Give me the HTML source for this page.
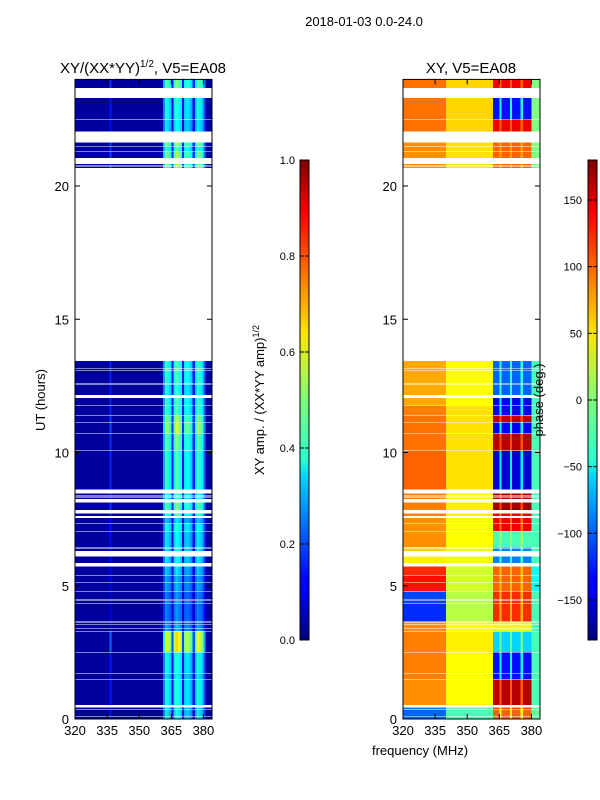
<!DOCTYPE html>
<html><head><meta charset="utf-8"><style>
body{margin:0;background:#fff;}
svg{display:block;font-family:"Liberation Sans","DejaVu Sans",sans-serif;}
</style></head><body>
<svg id="fig" width="600" height="800" viewBox="0 0 600 800" xmlns="http://www.w3.org/2000/svg">
<defs>
<linearGradient id="jetg" x1="0" y1="1" x2="0" y2="0">
<stop offset="0" stop-color="#00007f"/><stop offset="0.11" stop-color="#0000ff"/><stop offset="0.125" stop-color="#0000ff"/>
<stop offset="0.34" stop-color="#00d4ff"/><stop offset="0.375" stop-color="#29ffce"/><stop offset="0.5" stop-color="#7dff7a"/>
<stop offset="0.64" stop-color="#ffe500"/><stop offset="0.66" stop-color="#ffd000"/><stop offset="0.89" stop-color="#ff0000"/><stop offset="1" stop-color="#7f0000"/>
</linearGradient>
</defs>
<text x="364" y="26" font-size="13" text-anchor="middle">2018-01-03 0.0-24.0</text>
<g id="p1"></g>
<g id="p2"></g>
<text x="143" y="73" font-size="15" text-anchor="middle">XY/(XX*YY)<tspan font-size="10" dy="-6">1/2</tspan><tspan dy="6">, V5=EA08</tspan></text>
<text x="471" y="73" font-size="15" text-anchor="middle">XY, V5=EA08</text>
<text x="45" y="400" font-size="13" text-anchor="middle" transform="rotate(-90 45 400)">UT (hours)</text>
<text x="420" y="755" font-size="13" text-anchor="middle">frequency (MHz)</text>
<g>
<rect x="300" y="160" width="9" height="480" fill="url(#jetg)" stroke="#000" stroke-width="1"/>
</g>
<g>
<rect x="588" y="160" width="9" height="480" fill="url(#jetg)" stroke="#000" stroke-width="1"/>
</g>
<text x="264" y="400" font-size="13" text-anchor="middle" transform="rotate(-90 264 400)">XY amp. / (XX*YY amp)<tspan font-size="9" dy="-5">1/2</tspan></text>
<text x="543" y="400" font-size="13" text-anchor="middle" transform="rotate(-90 543 400)">phase (deg.)</text>
<g id="cb"></g>
</svg>
<script>
const segStart=[0,0.09,0.35,0.53,1.51,1.73,2.51,3.31,3.42,3.54,3.65,4.36,4.44,4.51,4.81,5.15,5.41,5.86,6.31,6.39,6.46,7.06,7.36,7.61,7.85,8.26,8.34,8.41,8.61,10.07,10.71,11.15,11.41,11.79,12.16,12.58,13.07,13.18,20.68,20.76,21.06,21.29,21.51,22.04,22.49,23.68];
const segEnd=[0.07,0.33,0.44,1.49,1.71,2.49,3.29,3.4,3.52,3.63,4.34,4.42,4.49,4.79,5.13,5.39,5.73,6.09,6.37,6.44,7.04,7.34,7.54,7.72,8.13,8.32,8.39,8.47,10.05,10.69,11.13,11.39,11.77,12.04,12.56,13.05,13.16,13.43,20.74,20.82,21.27,21.49,21.64,22.47,23.3,24];
const ampSeg=[0.5,0.5,0.5,0.55,0.5,0.55,0.85,0.4,0.4,0.35,0.35,0.4,0.3,0.35,0.4,0.4,0.45,0.5,0.5,0.5,0.5,0.55,0.45,0.6,0.65,0.55,0.55,0.55,0.6,0.65,0.75,0.7,0.6,0.6,0.55,0.6,0.65,0.6,0.7,0.7,0.7,0.6,0.7,0.5,0.55,0.65];
const ampChan=[0.03,0.03,0.03,0.03,0.03,0.03,0.03,0.03,0.03,0.03,0.03,0.03,0.03,0.03,0.03,0.03,0.22,0.03,0.03,0.03,0.03,0.03,0.03,0.03,0.03,0.03,0.03,0.03,0.03,0.03,0.03,0.03,0.03,0.03,0.03,0.03,0.03,0.03,0.03,0.03,0.03,0.4,0.6,0.55,0.5,0.2,0.55,0.65,0.6,0.55,0.2,0.5,0.55,0.5,0.45,0.2,0.5,0.6,0.55,0.5,0.3,0.03,0.03,0.03];
const phaseLow=[-100,-100,-90,85,90,90,90,85,85,85,-120,-110,-120,-110,130,130,120,50,60,65,85,85,85,90,90,90,90,90,100,95,95,95,90,75,75,75,75,75,85,85,85,85,85,95,95,95];
const phaseMid=[-20,-20,-10,45,45,45,50,45,45,45,20,20,20,20,30,30,30,40,40,40,45,45,45,50,50,50,50,50,55,55,55,55,55,45,45,45,45,45,55,55,55,55,55,60,60,60];
const phaseHigh=[100,100,110,160,-130,-130,-60,40,40,40,120,120,120,120,100,100,100,-90,-90,-90,-20,140,140,140,170,170,170,170,-150,160,-140,160,-140,-140,-100,-100,-100,-100,100,100,100,100,100,140,-130,140];
const phaseEdge=[-10,-10,-10,-20,-20,-20,-20,-20,-20,-20,-20,-20,-20,-20,-40,-40,-40,-20,-20,-20,-20,-20,-20,-20,-20,-20,-20,-20,-20,-20,-20,-20,-20,-20,-20,-20,-20,-20,0,0,0,0,0,0,0,0];
const xTicks=[320,335,350,365,380];
const yTicks=[0,5,10,15,20];
const ampTicks=[0.0,0.2,0.4,0.6,0.8,1.0];
const phaseTicks=[-150,-100,-50,0,50,100,150];

const NS="http://www.w3.org/2000/svg";
function jet(v){v=Math.max(0,Math.min(1,v));
 const r=Math.max(0,Math.min(1,1.5-Math.abs(4*v-3))),g=Math.max(0,Math.min(1,1.5-Math.abs(4*v-2))),b=Math.max(0,Math.min(1,1.5-Math.abs(4*v-1)));
 return `rgb(${Math.round(r*255)},${Math.round(g*255)},${Math.round(b*255)})`;}
function mk(tag,at,parent){const e=document.createElementNS(NS,tag);for(const k in at)e.setAttribute(k,at[k]);parent.appendChild(e);return e;}
const Y0=719,Y1=79.4;
function yS(h){return Y0-(h/24)*(Y0-Y1);}
function panel(g,x0,x1,kind){
 const xS=f=>x0+(f-320)/(384-320)*(x1-x0);
 for(let s=0;s<segStart.length;s++){
  const yt=yS(segEnd[s]),yb=yS(segStart[s]);
  for(let c=0;c<ampChan.length;c++){
   const f=320+c;let v;
   if(kind==='amp'){v=ampChan[c]<0.1?ampChan[c]:Math.min(1,ampChan[c]*ampSeg[s]*1.2);}
   else{let p=f<340?phaseLow[s]:f<362?phaseMid[s]:f<380?phaseHigh[s]:phaseEdge[s];
    if(f>=362&&f<380&&(f===365||f===370||f===375))p=(p+phaseMid[s])/2;
    v=(p+180)/360;}
   const r=mk('rect',{x:xS(f),y:yt,width:xS(f+1)-xS(f)+0.3,height:yb-yt,fill:jet(v),'shape-rendering':'crispEdges'},g);
   
   
  }
 }
 const fr=mk('rect',{x:x0,y:Y1,width:x1-x0,height:Y0-Y1,fill:'none',stroke:'#000','stroke-width':1},g);
 
 
 xTicks.forEach(t=>{const x=xS(t);
  mk('line',{x1:x,y1:Y0,x2:x,y2:Y0-5,stroke:'#000'},g);mk('line',{x1:x,y1:Y1,x2:x,y2:Y1+5,stroke:'#000'},g);
  const tx=mk('text',{x:x,y:Y0+16,'font-size':13,'text-anchor':'middle'},g);tx.textContent=t;
  
  });
 yTicks.forEach(t=>{const y=yS(t);
  mk('line',{x1:x0,y1:y,x2:x0+5,y2:y,stroke:'#000'},g);mk('line',{x1:x1,y1:y,x2:x1-5,y2:y,stroke:'#000'},g);
  const tx=mk('text',{x:x0-6,y:y+5,'font-size':13,'text-anchor':'end'},g);tx.textContent=t;
  
  });
}
panel(document.getElementById('p1'),75,212,'amp');
panel(document.getElementById('p2'),403,540,'phase');
const cb=document.getElementById('cb');
ampTicks.forEach(t=>{const y=640-t*480;
 mk('line',{x1:300,y1:y,x2:304,y2:y,stroke:'#000'},cb);mk('line',{x1:309,y1:y,x2:305,y2:y,stroke:'#000'},cb);
 const tx=mk('text',{x:295,y:y+4,'font-size':11,'text-anchor':'end'},cb);tx.textContent=t.toFixed(1);
 
 });
phaseTicks.forEach(t=>{const y=400-t*480/360;
 mk('line',{x1:588,y1:y,x2:592,y2:y,stroke:'#000'},cb);mk('line',{x1:597,y1:y,x2:593,y2:y,stroke:'#000'},cb);
 const tx=mk('text',{x:582,y:y+4,'font-size':11,'text-anchor':'end'},cb);tx.textContent=t<0?'\u2212'+(-t):t;
 
 });
</script>
</body></html>
